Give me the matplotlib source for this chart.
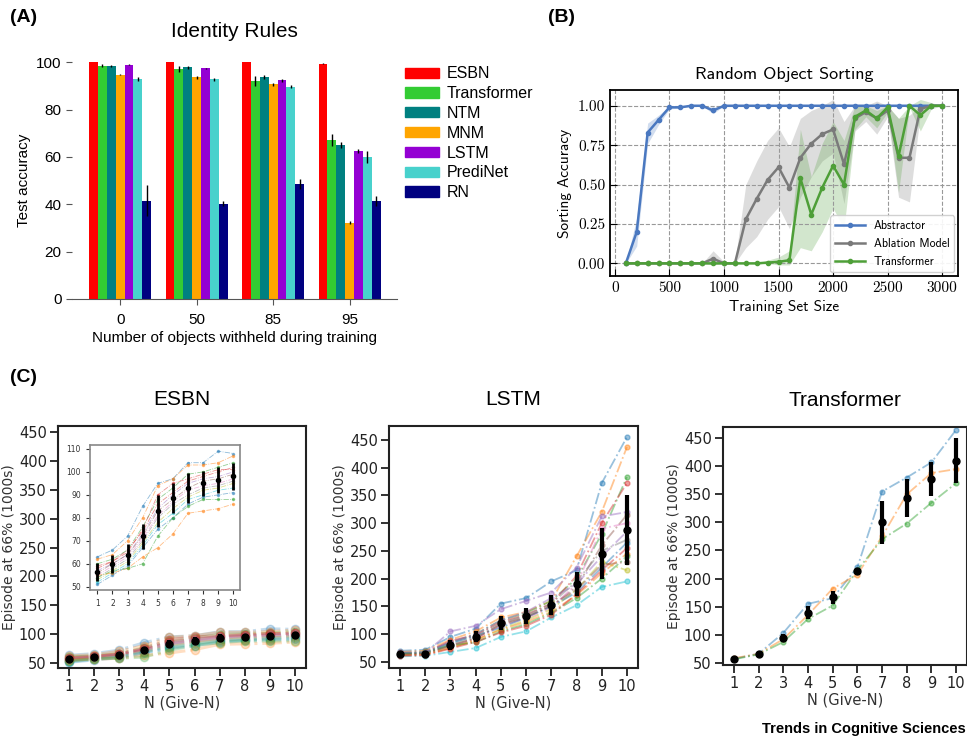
import matplotlib.pyplot as plt
import numpy as np
from matplotlib.patches import Patch

W, H = 967, 741


def box(l, t, r, b):
    # pixel box -> figure fraction
    return [l / W, 1 - b / H, (r - l) / W, (b - t) / H]


# ---------------- (A) Identity Rules ----------------
withheld = ['0', '50', '85', '95']
models_a = ['ESBN', 'Transformer', 'NTM', 'MNM', 'LSTM', 'PrediNet', 'RN']
colors_a = ['#ff0000', '#33cc33', '#008080', '#ffa500', '#9400d3', '#48d1cc', '#000080']
acc_a = {
    'ESBN':        [100.0, 100.0, 100.0, 99.3],
    'Transformer': [98.5, 97.0, 92.0, 67.0],
    'NTM':         [98.2, 97.8, 93.8, 65.0],
    'MNM':         [94.7, 93.6, 90.6, 32.3],
    'LSTM':        [99.0, 97.5, 92.3, 62.4],
    'PrediNet':    [93.0, 92.8, 89.7, 60.0],
    'RN':          [41.5, 40.3, 48.6, 41.4],
}
err_a = {
    'ESBN':        [0.1, 0.1, 0.1, 0.2],
    'Transformer': [0.6, 1.3, 2.2, 2.5],
    'NTM':         [0.4, 0.5, 0.7, 1.2],
    'MNM':         [0.3, 0.5, 0.7, 0.8],
    'LSTM':        [0.2, 0.2, 0.6, 0.9],
    'PrediNet':    [0.8, 0.6, 0.7, 2.5],
    'RN':          [6.5, 1.0, 2.0, 2.0],
}

# ---------------- (B) Random Object Sorting ----------------
train_size = np.arange(100, 3001, 100)
abs_mean = [0.0, 0.20, 0.83, 0.91, 0.99, 0.99, 1.0, 1.0, 0.97, 1.0,
            1.0, 1.0, 1.0, 1.0, 1.0, 1.0, 1.0, 1.0, 1.0, 1.0,
            1.0, 1.0, 1.0, 1.0, 1.0, 1.0, 1.0, 1.0, 1.0, 1.0]
abs_lo = [0.0, 0.11, 0.76, 0.88, 0.98, 0.985, 1.0, 1.0, 0.95, 1.0,
          1.0, 1.0, 1.0, 1.0, 1.0, 1.0, 1.0, 1.0, 1.0, 1.0,
          1.0, 1.0, 1.0, 1.0, 1.0, 1.0, 1.0, 1.0, 1.0, 1.0]
abs_hi = [0.0, 0.29, 0.89, 0.94, 1.0, 1.0, 1.0, 1.0, 0.99, 1.0,
          1.0, 1.0, 1.0, 1.0, 1.0, 1.0, 1.0, 1.0, 1.0, 1.0,
          1.0, 1.0, 1.0, 1.0, 1.0, 1.0, 1.0, 1.0, 1.0, 1.0]
abl_mean = [0.0, 0.0, 0.0, 0.0, 0.0, 0.0, 0.0, 0.0, 0.03, 0.0,
            0.0, 0.28, 0.41, 0.53, 0.61, 0.48, 0.67, 0.76, 0.82, 0.85,
            0.63, 0.92, 0.96, 0.92, 0.97, 0.67, 0.67, 0.98, 1.0, 1.0]
abl_lo = [0.0, 0.0, 0.0, 0.0, 0.0, 0.0, 0.0, 0.0, -0.01, 0.0,
          0.0, 0.10, 0.17, 0.28, 0.36, 0.22, 0.42, 0.55, 0.65, 0.70,
          0.38, 0.84, 0.90, 0.82, 0.93, 0.42, 0.39, 0.95, 1.0, 1.0]
abl_hi = [0.0, 0.0, 0.0, 0.0, 0.0, 0.0, 0.0, 0.0, 0.08, 0.01,
          0.01, 0.50, 0.65, 0.78, 0.86, 0.74, 0.92, 0.97, 1.0, 1.04,
          0.90, 1.0, 1.0, 1.03, 1.0, 0.92, 0.94, 1.0, 1.0, 1.0]
trf_mean = [0.0, 0.0, 0.0, 0.0, 0.0, 0.0, 0.0, 0.0, 0.0, 0.0,
            0.0, 0.0, 0.0, 0.005, 0.01, 0.02, 0.54, 0.31, 0.48, 0.62,
            0.50, 0.93, 0.97, 0.92, 0.99, 0.68, 1.0, 0.94, 1.0, 1.0]
trf_lo = [0.0, 0.0, 0.0, 0.0, 0.0, 0.0, 0.0, 0.0, 0.0, 0.0,
          0.0, 0.0, 0.0, 0.0, -0.01, -0.01, 0.10, 0.08, 0.20, 0.35,
          0.22, 0.85, 0.93, 0.86, 0.96, 0.45, 0.99, 0.84, 0.98, 1.0]
trf_hi = [0.0, 0.0, 0.0, 0.0, 0.0, 0.0, 0.0, 0.0, 0.0, 0.0,
          0.0, 0.0, 0.0, 0.02, 0.04, 0.08, 0.85, 0.55, 0.76, 0.90,
          0.78, 1.0, 1.0, 0.97, 1.0, 0.92, 1.0, 1.04, 1.02, 1.0]

# ---------------- (C) Give-N ----------------
give_n = [1, 2, 3, 4, 5, 6, 7, 8, 9, 10]
esbn_runs = [
    [63, 66, 72, 85, 95, 97, 104, 104, 109, 108],
    [62, 64, 70, 80, 94, 97, 103, 103, 104, 107],
    [60, 62, 66, 76, 88, 93, 99, 100, 102, 104],
    [58, 61, 66, 74, 86, 91, 96, 98, 100, 102],
    [57, 60, 64, 73, 84, 90, 95, 97, 98, 100],
    [56, 60, 64, 72, 83, 88, 93, 96, 97, 99],
    [55, 59, 63, 71, 81, 87, 92, 94, 95, 97],
    [54, 58, 62, 70, 80, 86, 90, 93, 94, 96],
    [53, 57, 61, 69, 78, 84, 89, 92, 93, 95],
    [52, 56, 60, 68, 77, 82, 88, 90, 92, 93],
    [51, 55, 59, 67, 75, 80, 86, 89, 90, 91],
    [55, 56, 58, 63, 67, 73, 82, 83, 84, 86],
    [54, 57, 58, 60, 72, 80, 85, 88, 88, 88],
    [59, 61, 65, 75, 90, 95, 97, 99, 101, 101],
]
esbn_mean = [56.5, 60, 64, 72, 83, 88.5, 93, 95, 96.5, 98]
esbn_err = [4, 4, 4.5, 5.5, 7, 6.5, 6.5, 5.5, 5.5, 6]

lstm_runs = [
    [70, 72, 95, 110, 155, 165, 195, 215, 372, 455],
    [68, 70, 90, 105, 130, 140, 160, 240, 320, 437],
    [66, 68, 85, 100, 125, 138, 160, 200, 280, 383],
    [65, 66, 88, 98, 122, 135, 155, 205, 300, 372],
    [64, 66, 105, 115, 145, 160, 175, 220, 312, 320],
    [63, 64, 80, 92, 118, 132, 150, 185, 260, 315],
    [62, 63, 78, 90, 115, 128, 148, 190, 290, 300],
    [64, 65, 82, 96, 120, 134, 155, 195, 250, 270],
    [63, 64, 76, 88, 110, 125, 145, 180, 230, 215],
    [60, 61, 68, 75, 95, 105, 130, 152, 185, 195],
    [66, 66, 84, 97, 112, 130, 150, 175, 220, 265],
    [62, 63, 75, 90, 108, 122, 140, 170, 210, 245],
    [65, 67, 80, 85, 105, 118, 138, 165, 200, 240],
    [61, 62, 74, 86, 103, 115, 135, 172, 215, 255],
    [67, 68, 86, 100, 125, 140, 165, 190, 240, 285],
    [63, 65, 79, 93, 117, 130, 152, 180, 225, 230],
]
lstm_mean = [64, 65, 81, 95, 120, 133, 153, 190, 245, 288]
lstm_err = [4, 5, 9, 10, 12, 14, 18, 22, 46, 63]

trf_runs = [
    [57, 66, 103, 155, 165, 220, 355, 380, 407, 465],
    [58, 66, 92, 135, 182, 207, 275, 350, 388, 395],
    [56, 65, 87, 128, 152, 215, 270, 298, 335, 370],
]

# ======================================================
fig = plt.figure(figsize=(W / 100, H / 100), dpi=100)
arial = 'Liberation Sans'

# ---------- A ----------
axA = fig.add_axes(box(72, 61, 397, 299))
x = np.arange(len(withheld))
bw = 0.116
for i, m in enumerate(models_a):
    axA.bar(x + (i - 3) * bw, acc_a[m], bw, color=colors_a[i], label=m,
            yerr=err_a[m], error_kw=dict(ecolor='black', elinewidth=1, capsize=0))
axA.set_xlim(-0.63, 3.62)
axA.set_ylim(0, 100.5)
axA.set_xticks(x)
axA.set_xticklabels(withheld)
axA.set_yticks([0, 20, 40, 60, 80, 100])
for s in ['top', 'right', 'left']:
    axA.spines[s].set_visible(False)
axA.spines['bottom'].set_color('#555555')
axA.tick_params(labelsize=11, length=4, color='#555555')
axA.tick_params(axis='x', pad=6)
for lab in axA.get_xticklabels() + axA.get_yticklabels():
    lab.set_family(arial)
axA.set_title('Identity Rules', fontsize=15, family=arial, pad=17)
axA.set_xlabel('Number of objects withheld during training', fontsize=11, family=arial,
               labelpad=3)
axA.set_ylabel('Test accuracy', fontsize=11, family=arial)
handles = [Patch(color=c, label=m) for m, c in zip(models_a, colors_a)]
fig.legend(handles=handles, loc='upper left', bbox_to_anchor=(391 / W, 1 - 52 / H),
           frameon=False, prop={'family': arial, 'size': 11.5},
           handlelength=2.1, handleheight=0.6, labelspacing=0.3, handletextpad=0.5)

# ---------- B ----------
axB = fig.add_axes(box(610, 90, 958, 276))
series_b = [
    ('Abstractor', abs_mean, abs_lo, abs_hi, '#4a78c0'),
    ('Ablation Model', abl_mean, abl_lo, abl_hi, '#7a7a7a'),
    ('Transformer', trf_mean, trf_lo, trf_hi, '#4e9f38'),
]
for name, mu, lo, hi, c in series_b:
    axB.fill_between(train_size, lo, hi, color=c, alpha=0.25, lw=0)
    axB.plot(train_size, mu, '-o', color=c, lw=1.8, ms=3, label=name)
axB.set_xlim(-45, 3145)
axB.set_ylim(-0.08, 1.10)
axB.set_xticks([0, 500, 1000, 1500, 2000, 2500, 3000])
axB.set_yticks([0.0, 0.25, 0.5, 0.75, 1.0])
axB.set_yticklabels(['0.00', '0.25', '0.50', '0.75', '1.00'])
axB.grid(True, ls='--', color='#999999', lw=0.8)
axB.tick_params(direction='in', labelsize=11, length=5)
for lab in axB.get_xticklabels() + axB.get_yticklabels():
    lab.set_family('cmr10')
for s in axB.spines.values():
    s.set_linewidth(1.3)
axB.set_title('Random Object Sorting', fontsize=13, family='cmss10', pad=8)
axB.set_xlabel('Training Set Size', fontsize=11, family='cmss10')
axB.set_ylabel('Sorting Accuracy', fontsize=11, family='cmss10')
axB.legend(loc='lower right', prop={'family': 'cmss10', 'size': 8.5}, borderaxespad=0.3,
           handlelength=2.5, framealpha=0.9)

# ---------- C ----------
def give_n_axes(rect, runs, mean, err, ylim, title, lw, ms, alpha):
    ax = fig.add_axes(rect)
    for r in runs:
        ax.plot(give_n, r, ls='-.', marker='o', lw=lw, ms=ms, alpha=alpha)
    ax.errorbar(give_n, mean, yerr=err, fmt='o', color='black', ms=5,
                elinewidth=3, capsize=0, zorder=5)
    ax.set_xlim(0.56, 10.44)
    ax.set_ylim(*ylim)
    ax.set_xticks(give_n)
    ax.set_yticks([50, 100, 150, 200, 250, 300, 350, 400, 450])
    ax.tick_params(labelsize=10.5, length=6, width=1.3, colors='#222222', pad=2)
    for s in ax.spines.values():
        s.set_linewidth(1.5)
        s.set_color('#222222')
    ax.set_xlabel('N (Give-N)', fontsize=10.5, color='#333333', labelpad=1)
    ax.set_ylabel('Episode at 66% (1000s)', fontsize=10, color='#333333', labelpad=2)
    ax.set_title(title, fontsize=15, family=arial, pad=15)
    return ax


esbn_ax = give_n_axes(box(58, 426, 306, 668), esbn_runs, esbn_mean, esbn_err,
                      (41, 461), 'ESBN', 2.2, 6, 0.25)
lstm_ax = give_n_axes(box(389, 426, 638, 668), lstm_runs, lstm_mean, lstm_err,
                      (39, 475), 'LSTM', 1.3, 3.5, 0.45)
trf_ax = give_n_axes(box(723, 427, 967, 665), trf_runs,
                     np.mean(trf_runs, axis=0), np.std(trf_runs, axis=0),
                     (46, 470), 'Transformer', 1.3, 3.5, 0.45)

# inset for ESBN
ins = fig.add_axes(box(90, 445, 240, 590))
for r in esbn_runs:
    ins.plot(give_n, r, ls='-.', marker='o', lw=0.6, ms=1.5, alpha=0.5)
ins.errorbar(give_n, esbn_mean, yerr=esbn_err, fmt='o', color='black', ms=3,
             elinewidth=2, capsize=0, zorder=5)
ins.set_xlim(0.52, 10.44)
ins.set_ylim(48.6, 111.7)
ins.set_xticks(give_n)
ins.set_yticks([50, 60, 70, 80, 90, 100, 110])
ins.tick_params(labelsize=5.5, length=3, width=0.8, colors='#333333')
for s in ins.spines.values():
    s.set_color('#888888')
    s.set_linewidth(1.2)

# panel letters and footer
fig.text(10 / W, 1 - 17 / H, '(A)', fontsize=14, weight='bold', family=arial, va='center')
fig.text(548 / W, 1 - 17 / H, '(B)', fontsize=14, weight='bold', family=arial, va='center')
fig.text(10 / W, 1 - 377 / H, '(C)', fontsize=14, weight='bold', family=arial, va='center')
fig.text(966 / W, 1 - 729 / H, 'Trends in Cognitive Sciences', fontsize=10.5,
         weight='bold', family=arial, ha='right', va='center')

fig.savefig('out.png', dpi=100)
